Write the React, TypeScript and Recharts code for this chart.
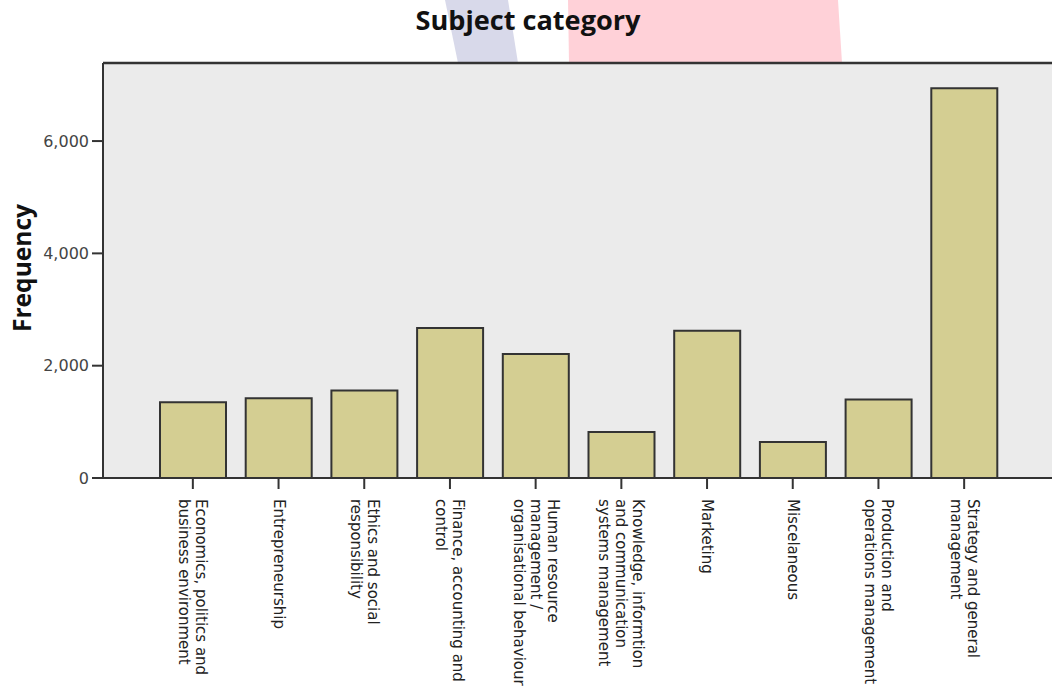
import React from 'react';
import { BarChart, Bar, XAxis, YAxis, CartesianGrid, ReferenceLine } from 'recharts';

const categories = [
  'Economics, politics and\nbusiness environment',
  'Entrepreneurship',
  'Ethics and social\nresponsibility',
  'Finance, accounting and\ncontrol',
  'Human resource\nmanagement /\norganisational behaviour',
  'Knowledge, informtion\nand communication\nsystems management',
  'Marketing',
  'Miscelaneous',
  'Production and\noperations management',
  'Strategy and general\nmanagement',
];
const frequencies = [1350, 1420, 1560, 2670, 2210, 820, 2620, 640, 1400, 6940];
const yTicks = [0, 2000, 4000, 6000];
const yMax = 7390;
const titleText = 'Subject category';
const yAxisTitle = 'Frequency';

const data = categories.map((c, i) => ({ category: c, frequency: frequencies[i] }));

const XTick = (props: any) => {
  const { x, y, payload } = props;
  const lines = String(payload.value).split('\n');
  const n = lines.length;
  const lh = 17;
  return (
    <text
      transform={`translate(${x},${y}) rotate(90)`}
      textAnchor="start"
      fontSize={15}
      fontFamily="DejaVu Sans"
      fill="#222"
    >
      {lines.map((l, i) => (
        <tspan key={i} x={0} y={(i - (n - 1) / 2) * lh + 5}>
          {l}
        </tspan>
      ))}
    </text>
  );
};

export default function App() {
  return (
    <div style={{ position: 'fixed', left: 0, top: 0, width: 1052, height: 691, overflow: 'hidden', background: '#fff' }}>
      <svg width={1052} height={691} style={{ position: 'absolute', left: 0, top: 0 }}>
        <polygon points="445,0 508,0 518,63 458,63" fill="#D8D9EA" />
        <polygon points="568,0 838,0 842,63 569,63" fill="#FFD1D8" />
        <text x={528} y={30} textAnchor="middle" fontSize={27} fontWeight="bold" fontFamily="Open Sans" fill="#111" textLength={225} lengthAdjust="spacingAndGlyphs">
          {titleText}
        </text>
        <text transform="translate(31,268) rotate(-90)" textAnchor="middle" fontSize={25} fontWeight="bold" fontFamily="Open Sans" fill="#111" textLength={128} lengthAdjust="spacingAndGlyphs">
          {yAxisTitle}
        </text>
      </svg>
      <div style={{ position: 'absolute', left: 0, top: 0 }}>
        <BarChart width={1060} height={691} data={data} margin={{ top: 63, right: 6, left: 0, bottom: 0 }}>
          <CartesianGrid fill="#EBEBEB" horizontal={false} vertical={false} />
          <XAxis
            dataKey="category"
            interval={0}
            height={213}
            padding={{ left: 47, right: 47 }}
            tickSize={11}
            tickMargin={10}
            tick={<XTick />}
            tickLine={{ stroke: '#333', strokeWidth: 2 }}
            axisLine={{ stroke: '#333', strokeWidth: 2 }}
          />
          <YAxis
            width={103}
            domain={[0, yMax]}
            ticks={yTicks}
            tickSize={11}
            tickMargin={3}
            tickFormatter={(v: number) => v.toLocaleString('en-US')}
            tick={{ fontSize: 16, fill: '#444', fontFamily: 'DejaVu Sans' }}
            tickLine={{ stroke: '#333', strokeWidth: 2 }}
            axisLine={{ stroke: '#333', strokeWidth: 2 }}
          />
          <ReferenceLine y={yMax} stroke="#333" strokeWidth={2.5} ifOverflow="visible" />
          <Bar dataKey="frequency" fill="#D4CE92" stroke="#333" strokeWidth={2} barSize={66} isAnimationActive={false} />
        </BarChart>
      </div>
    </div>
  );
}
